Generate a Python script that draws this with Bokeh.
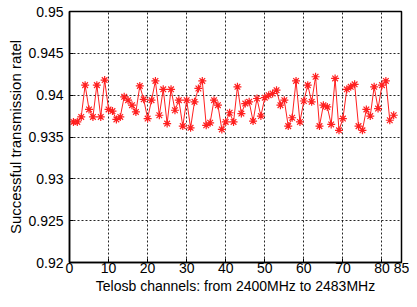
from bokeh.plotting import figure
from bokeh.models import FixedTicker, CustomJSTickFormatter, Range1d
from bokeh.embed import file_html
from bokeh.resources import INLINE

channels = list(range(1, 84))
rate = [
    0.9368, 0.9368, 0.9374, 0.9412, 0.9383, 0.9374, 0.9412, 0.9374, 0.9418, 0.9383,
    0.9381, 0.9371, 0.9374, 0.9398, 0.9394, 0.9388, 0.9380, 0.9411, 0.9395, 0.9372,
    0.9394, 0.9417, 0.9376, 0.9407, 0.9366, 0.9407, 0.9382, 0.9394, 0.9363, 0.9394,
    0.9361, 0.9392, 0.9408, 0.9417, 0.9364, 0.9367, 0.9394, 0.9388, 0.9359, 0.9368,
    0.9379, 0.9368, 0.9410, 0.9378, 0.9390, 0.9392, 0.9369, 0.9396, 0.9375, 0.9397,
    0.9400, 0.9402, 0.9406, 0.9388, 0.9394, 0.9363, 0.9373, 0.9417, 0.9368, 0.9393,
    0.9412, 0.9392, 0.9422, 0.9363, 0.9388, 0.9386, 0.9365, 0.9420, 0.9358, 0.9372,
    0.9407, 0.9410, 0.9413, 0.9363, 0.9358, 0.9383, 0.9375, 0.9410, 0.9384, 0.9412,
    0.9417, 0.9370, 0.9376,
]
x_ticks = [0, 10, 20, 30, 40, 50, 60, 70, 80, 85]
y_ticks = [0.92, 0.925, 0.93, 0.935, 0.94, 0.945, 0.95]
x_label = "Telosb channels: from 2400MHz to 2483MHz"
y_label = "Successful transmission ratel"

FONT = "Liberation Sans"

p = figure(width=409, height=299, output_backend="svg", toolbar_location=None,
           x_range=Range1d(0, 85), y_range=Range1d(0.92, 0.95),
           min_border_left=69, min_border_right=8, min_border_top=11, min_border_bottom=37)

p.line(channels, rate, line_color="#ff2020", line_width=1)
p.scatter(channels, rate, marker="asterisk", size=8, line_color="#ff2020", line_width=1.2)

p.outline_line_color = "black"
p.outline_line_width = 1.5
p.outline_line_alpha = 1

for ax in (p.xaxis[0], p.yaxis[0]):
    ax.axis_line_color = "black"
    ax.axis_line_width = 1.5
    ax.major_tick_in = 4
    ax.major_tick_out = 0
    ax.minor_tick_line_color = None
    ax.major_label_text_font = FONT
    ax.major_label_text_font_size = "14px"
    ax.major_label_text_color = "black"
    ax.axis_label_text_font = FONT
    ax.axis_label_text_font_style = "normal"
    ax.axis_label_text_color = "black"

p.xaxis.axis_label_text_font_size = "14px"
p.yaxis.axis_label_text_font_size = "15px"
p.xaxis.ticker = FixedTicker(ticks=x_ticks)
p.yaxis.ticker = FixedTicker(ticks=y_ticks)
p.yaxis.formatter = CustomJSTickFormatter(code="return tick.toFixed(3).replace(/0+$/, '');")
p.xaxis.major_label_standoff = 0
p.yaxis.major_label_standoff = 6
p.xaxis.axis_label = x_label
p.yaxis.axis_label = y_label
p.xaxis.axis_label_standoff = 2
p.yaxis.axis_label_standoff = 1

p.xgrid.ticker = FixedTicker(ticks=x_ticks[1:-1])
p.ygrid.ticker = FixedTicker(ticks=y_ticks[1:-1])
for g in (p.xgrid[0], p.ygrid[0]):
    g.grid_line_color = "black"
    g.grid_line_dash = "2 2"
    g.grid_line_width = 1
    g.grid_line_alpha = 0.85

open("out.html", "w").write(file_html(p, INLINE))
